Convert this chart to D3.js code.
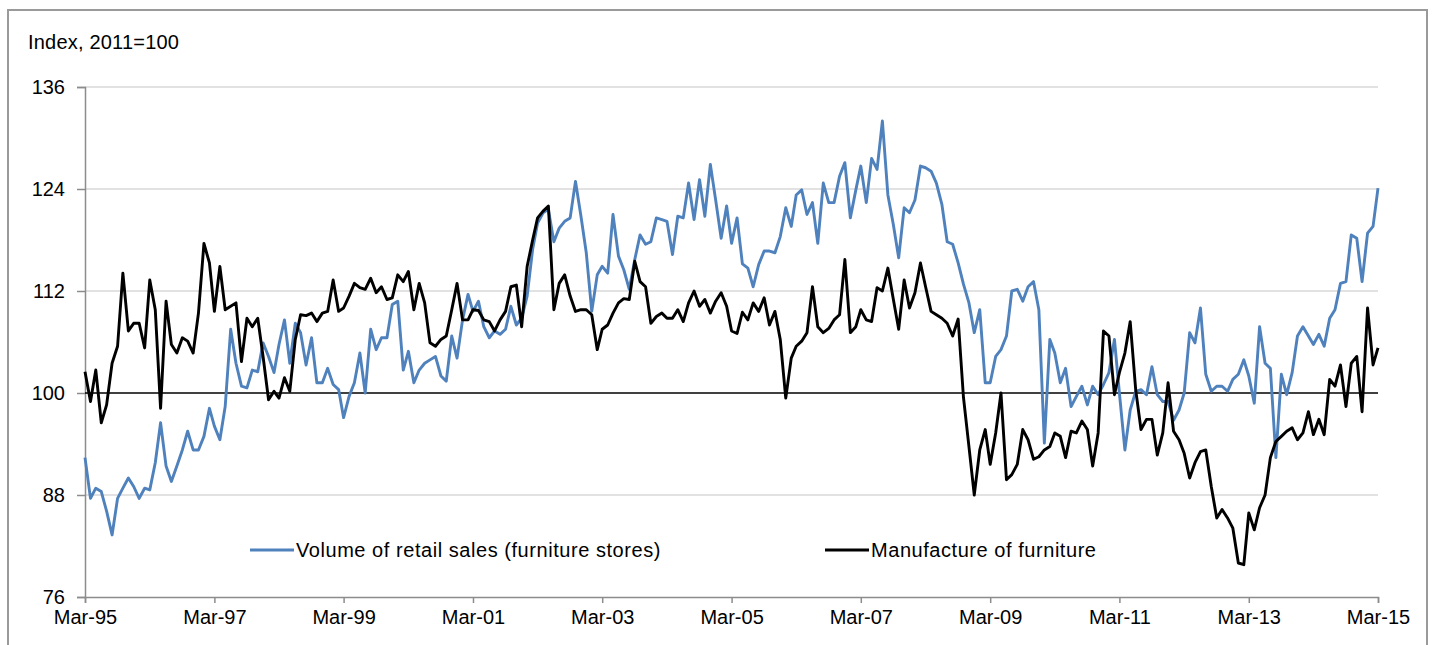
<!DOCTYPE html>
<html>
<head>
<meta charset="utf-8">
<script src="https://cdn.jsdelivr.net/npm/d3@7"></script>
<style>
  body { margin: 0; background: #fff; }
  svg text { font-family: "Liberation Sans", Arial, sans-serif; font-size: 20px; fill: #000; }
</style>
</head>
<body>
<div id="chart"></div>
<script>
// monthly values, Mar-95 .. Mar-15
var retail = [
  92.4, 87.6, 88.8, 88.4, 86.1, 83.3, 87.6, 88.8, 90.0, 89.0, 87.6, 88.8,
  88.6, 91.8, 96.5, 91.4, 89.6, 91.4, 93.3, 95.5, 93.3, 93.3, 94.9, 98.2,
  96.1, 94.5, 98.4, 107.5, 103.5, 100.8, 100.6, 102.7, 102.5, 105.9, 104.3, 102.4,
  105.7, 108.6, 103.5, 108.2, 107.1, 103.3, 106.5, 101.2, 101.2, 102.9, 101.0, 100.4,
  97.1, 99.6, 101.2, 104.7, 100.0, 107.5, 105.1, 106.5, 106.5, 110.4, 110.8, 102.7,
  104.9, 101.2, 102.7, 103.5, 103.9, 104.3, 102.0, 101.4, 106.7, 104.1, 108.6, 111.6,
  109.6, 110.8, 107.8, 106.5, 107.3, 106.9, 107.5, 110.2, 108.0, 108.8, 111.4, 116.9,
  120.0, 121.2, 121.6, 117.8, 119.4, 120.2, 120.6, 124.9, 120.8, 116.5, 109.6, 113.9,
  114.9, 114.1, 121.0, 116.1, 114.5, 112.2, 115.7, 118.6, 117.5, 117.8, 120.6, 120.4,
  120.2, 116.3, 120.8, 120.6, 124.7, 120.4, 125.1, 120.8, 126.9, 122.7, 118.2, 122.0,
  117.6, 120.6, 115.2, 114.7, 112.5, 115.1, 116.7, 116.7, 116.5, 118.4, 121.8, 119.6,
  123.3, 123.9, 121.0, 122.4, 117.6, 124.7, 122.4, 122.4, 125.5, 127.1, 120.6, 123.9,
  126.7, 122.4, 127.6, 126.3, 132.0, 123.3, 119.8, 115.9, 121.8, 121.2, 122.7, 126.7,
  126.5, 126.1, 124.7, 122.2, 117.8, 117.5, 115.3, 112.8, 110.6, 107.1, 109.8, 101.2,
  101.2, 104.3, 105.1, 106.7, 112.0, 112.2, 110.8, 112.5, 113.1, 109.8, 94.1, 106.3,
  104.7, 101.2, 102.9, 98.4, 99.6, 100.8, 98.6, 100.8, 99.8, 101.0, 102.4, 106.3,
  100.0, 93.3, 98.0, 100.2, 100.4, 99.8, 103.1, 99.8, 99.0, 99.0, 96.8, 98.0,
  100.0, 107.1, 105.9, 110.0, 102.2, 100.2, 100.8, 100.8, 100.2, 101.6, 102.2, 103.9,
  102.0, 98.8, 107.8, 103.5, 102.9, 92.4, 102.2, 99.8, 102.4, 106.7, 107.8, 106.7,
  105.7, 106.9, 105.5, 108.8, 109.8, 112.9, 113.1, 118.6, 118.2, 113.1, 118.8, 119.6,
  124.1
];

var manufacture = [
  102.5, 99.0, 102.7, 96.5, 98.6, 103.5, 105.5, 114.1, 107.3, 108.2, 108.2, 105.3,
  113.3, 109.8, 98.2, 110.8, 105.7, 104.7, 106.5, 106.1, 104.7, 109.4, 117.6, 115.3,
  109.6, 114.9, 109.8, 110.2, 110.6, 103.7, 108.8, 107.8, 108.8, 104.3, 99.2, 100.2,
  99.4, 101.8, 100.2, 106.3, 109.2, 109.1, 109.4, 108.4, 109.4, 109.6, 113.3, 109.6,
  110.0, 111.4, 112.9, 112.4, 112.2, 113.5, 111.8, 112.5, 111.0, 111.2, 113.9, 113.1,
  114.3, 109.8, 112.9, 110.6, 105.9, 105.5, 106.3, 106.7, 109.8, 112.9, 108.6, 108.6,
  109.8, 109.7, 108.6, 108.4, 107.3, 108.6, 109.6, 112.5, 112.7, 107.8, 114.9, 118.0,
  120.6, 121.4, 122.0, 109.8, 112.9, 113.9, 111.4, 109.6, 109.8, 109.8, 109.2, 105.1,
  107.5, 108.0, 109.4, 110.6, 111.1, 111.0, 115.5, 113.1, 112.5, 108.2, 109.0, 109.4,
  108.8, 108.8, 109.8, 108.4, 110.6, 112.0, 110.2, 111.0, 109.4, 110.8, 111.8, 110.2,
  107.3, 107.0, 109.5, 108.6, 110.6, 109.6, 111.2, 108.0, 109.6, 106.3, 99.4, 104.1,
  105.5, 106.1, 107.1, 112.5, 107.8, 107.1, 107.6, 108.6, 109.2, 115.7, 107.1, 107.8,
  109.8, 108.6, 108.4, 112.4, 112.0, 114.7, 111.0, 107.5, 113.3, 110.0, 111.8, 115.3,
  112.5, 109.6, 109.2, 108.8, 108.2, 106.7, 108.7, 99.5, 93.7, 88.0, 93.3, 95.7,
  91.6, 95.3, 100.0, 89.8, 90.4, 91.6, 95.7, 94.5, 92.2, 92.5, 93.3, 93.7,
  95.3, 94.9, 92.4, 95.5, 95.3, 96.7, 95.7, 91.4, 95.3, 107.3, 106.7, 99.8,
  102.4, 104.7, 108.4, 100.4, 95.7, 96.9, 96.9, 92.7, 95.3, 101.2, 95.5, 94.5,
  92.9, 90.0, 91.8, 93.1, 93.3, 89.0, 85.3, 86.3, 85.3, 84.1, 80.0, 79.8,
  85.9, 83.9, 86.5, 88.0, 92.4, 94.3, 94.9, 95.5, 95.9, 94.5, 95.3, 97.8,
  95.1, 96.9, 95.1, 101.6, 100.8, 103.3, 98.4, 103.5, 104.3, 97.8, 110.0, 103.3,
  105.3
];

var seriesNames = ["Volume of retail sales (furniture stores)", "Manufacture of furniture"];
var seriesColors = ["#4f81bd", "#000000"];
var yTicks = [76, 88, 100, 112, 124, 136];
var xTickLabels = ["Mar-95", "Mar-97", "Mar-99", "Mar-01", "Mar-03", "Mar-05",
                   "Mar-07", "Mar-09", "Mar-11", "Mar-13", "Mar-15"];
var yLabel = "Index, 2011=100";

var W = 1433, H = 645;
var margin = {top: 87, right: 55, bottom: 48, left: 85};
var width = W - margin.left - margin.right,
    height = H - margin.top - margin.bottom;

var start = new Date(1995, 2, 1);
var dates = retail.map(function(d, i) { return d3.timeMonth.offset(start, i); });

var x = d3.scaleTime()
  .domain([dates[0], dates[dates.length - 1]])
  .range([0, width]);
var y = d3.scaleLinear()
  .domain([76, 136])
  .range([height, 0]);

var svg = d3.select("#chart").append("svg")
  .attr("width", W)
  .attr("height", H);

// outer frame
svg.append("rect")
  .attr("x", 8).attr("y", 10)
  .attr("width", 1419).attr("height", 650)
  .attr("fill", "none")
  .attr("stroke", "#9a9a9a")
  .attr("stroke-width", 2);

svg.append("text")
  .attr("x", 28).attr("y", 49)
  .style("letter-spacing", "0.2px")
  .text(yLabel);

var g = svg.append("g")
  .attr("transform", "translate(" + margin.left + "," + margin.top + ")");

// gridlines
g.selectAll(".grid")
  .data(yTicks.filter(function(d) { return d !== 76 && d !== 100; }))
  .enter().append("line")
    .attr("x1", 0).attr("x2", width)
    .attr("y1", function(d) { return y(d); })
    .attr("y2", function(d) { return y(d); })
    .attr("stroke", "#d9d9d9")
    .attr("stroke-width", 1.5);

// y axis
var yAxis = g.append("g")
  .call(d3.axisLeft(y).tickValues(yTicks).tickSize(8).tickPadding(12).tickFormat(d3.format("d")));
yAxis.select(".domain").attr("stroke", "#8c8c8c").attr("stroke-width", 1.5);
yAxis.selectAll(".tick line").attr("stroke", "#8c8c8c").attr("stroke-width", 1.5);
yAxis.selectAll("text").style("font-size", "20px").attr("fill", "#000");

// x axis at the bottom
var xTickDates = xTickLabels.map(function(d, i) { return d3.timeMonth.offset(start, i * 24); });
var xAxis = g.append("g")
  .attr("transform", "translate(0," + height + ")")
  .call(d3.axisBottom(x).tickValues(xTickDates).tickSize(6).tickPadding(3)
    .tickFormat(function(d, i) { return xTickLabels[i]; }));
xAxis.select(".domain").attr("stroke", "#8c8c8c").attr("stroke-width", 1.5);
xAxis.selectAll(".tick line").attr("stroke", "#8c8c8c").attr("stroke-width", 1.5);
xAxis.selectAll("text").style("font-size", "20px").attr("fill", "#000").attr("dy", "0.9em");

// 100 baseline
g.append("line")
  .attr("x1", 0).attr("x2", width)
  .attr("y1", y(100)).attr("y2", y(100))
  .attr("stroke", "#000")
  .attr("stroke-width", 1.3);

var line = d3.line()
  .x(function(d, i) { return x(dates[i]); })
  .y(function(d) { return y(d); });

[retail, manufacture].forEach(function(s, k) {
  g.append("path")
    .datum(s)
    .attr("d", line)
    .attr("fill", "none")
    .attr("stroke", seriesColors[k])
    .attr("stroke-width", 2.9)
    .attr("stroke-linejoin", "round");
});

// legend
var legendX = [250, 825];
var legend = svg.selectAll(".legend")
  .data(seriesNames)
  .enter().append("g")
    .attr("transform", function(d, i) { return "translate(" + legendX[i] + ",550)"; });
legend.append("line")
  .attr("x1", 0).attr("x2", 44)
  .attr("stroke", function(d, i) { return seriesColors[i]; })
  .attr("stroke-width", 3);
legend.append("text")
  .attr("x", 46).attr("y", 7)
  .style("letter-spacing", "0.55px")
  .text(function(d) { return d; });
</script>
</body>
</html>
